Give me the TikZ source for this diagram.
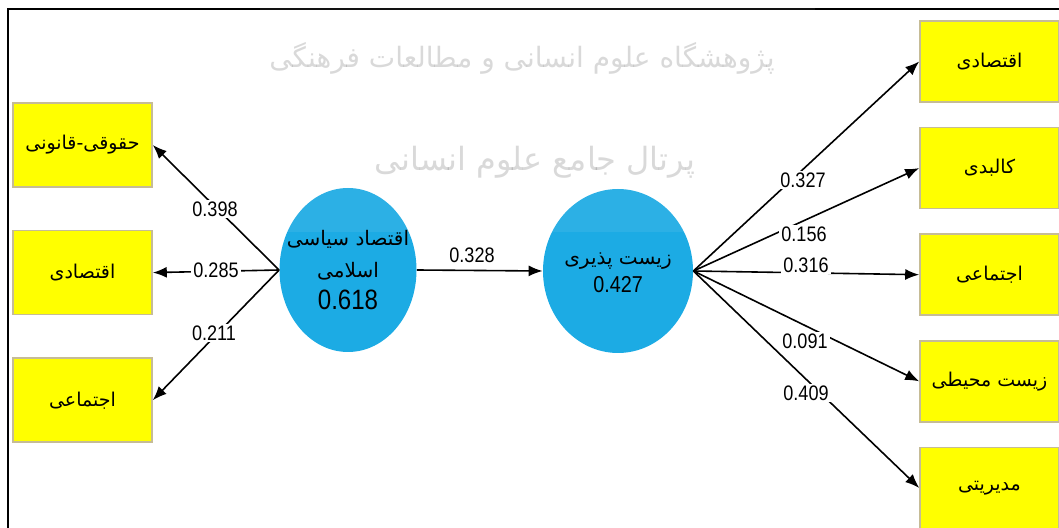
\documentclass[tikz,border=0pt]{standalone}
\usepackage{fontspec}
\setmainfont[FakeStretch=0.86]{Liberation Sans}
\newfontfamily\fa[Script=Arabic]{DejaVu Sans}
\TeXXeTstate=1
\usepackage{tikz}
\usetikzlibrary{shapes.geometric, arrows.meta}
\usetikzlibrary{positioning}

\definecolor{boxYellow}{RGB}{255,255,0}
\definecolor{boxEdge}{RGB}{198,188,150}
\definecolor{latentBlue}{RGB}{28,171,228}

\begin{document}
\begin{tikzpicture}[
  x=0.5pt, y=-0.5pt,
  node distance=21pt,
  weight/.style={fill=white, inner sep=1pt, font=\fontsize{10.5}{10.5}\selectfont},
  link/.style={-{Latex[length=7pt,width=5.5pt]}, line width=0.8pt}
]
	\tikzstyle{indicator} = [rectangle, minimum width=69.5pt, minimum height=42pt, fill=boxYellow, draw=boxEdge, line width=0.8pt, font=\fa\fontsize{9.5}{9.5}\selectfont]
	\tikzstyle{latent} = [ellipse, fill=latentBlue, inner sep=0pt]
	\tikzstyle{latentText} = [align=center, inner sep=0pt]

	\useasboundingbox (0,0) rectangle (1059,528);
	\draw[line width=1.1pt] (8,528) -- (8,9) -- (1059,9);

	% the two constructs
	\node (politicalEconomy) [latent, minimum width=68.5pt, minimum height=82pt] at (348,270) {};
	\node (viability) [latent, minimum width=75pt, minimum height=82pt] at (618,271) {};

	% left indicators
	\node (legal) [indicator] at (82.5,145) {\beginR حقوقی-قانونی\endR};
	\node (economic) [indicator, below=of legal] {\beginR اقتصادی\endR};
	\node (social) [indicator, below=of economic] {\beginR اجتماعی\endR};

	% right indicators
	\node (rEconomic) [indicator, minimum height=40.5pt] at (989.5,61.5) {\beginR اقتصادی\endR};
	\node (physical) [indicator, minimum height=40.5pt, below=12pt of rEconomic] {\beginR کالبدی\endR};
	\node (rSocial) [indicator, minimum height=40.5pt, below=12pt of physical] {\beginR اجتماعی\endR};
	\node (environmental) [indicator, minimum height=40.5pt, below=12pt of rSocial] {\beginR زیست محیطی\endR};
	\node (management) [indicator, minimum height=40.5pt, below=12pt of environmental] {\beginR مدیریتی\endR};

	% watermark
	\fill[white, fill opacity=0.07] (260,0) rectangle (815,232);
	\node (watermarkTop) [text=black, text opacity=0.15, font=\fa\fontsize{14}{14}\selectfont] at (522,58) {\beginR پژوهشگاه علوم انسانی و مطالعات فرهنگی\endR};
	\node (watermarkBottom) [text=black, text opacity=0.15, font=\fa\fontsize{16}{16}\selectfont] at (535,162) {\beginR پرتال جامع علوم انسانی\endR};

	% paths
	\draw[link] (politicalEconomy.west) -- (legal.east);
	\draw[link] (politicalEconomy.west) -- (economic.east);
	\draw[link] (politicalEconomy.west) -- (social.east);
	\draw[link] (politicalEconomy.east) -- (viability.west);
	\draw[link] (viability.east) -- (rEconomic.west);
	\draw[link] (viability.east) -- (physical.west);
	\draw[link] (viability.east) -- (rSocial.west);
	\draw[link] (viability.east) -- (environmental.west);
	\draw[link] (viability.east) -- (management.west);

	\node (w398) [weight] at (215,209) {0.398};
	\node (w285) [weight] at (216,270) {0.285};
	\node (w211) [weight] at (214,333) {0.211};
	\node (w328) [weight] at (472,255) {0.328};
	\node (w327) [weight] at (803,180) {0.327};
	\node (w156) [weight] at (804,234) {0.156};
	\node (w316) [weight] at (806,265) {0.316};
	\node (w091) [weight] at (805,341) {0.091};
	\node (w409) [weight] at (806,393) {0.409};

	\node (politicalEconomyText) [latentText, font=\fontsize{10}{16}\selectfont] at (politicalEconomy.center) {{\fa\beginR اقتصاد سیاسی\endR}\\ {\fa\beginR اسلامی\endR}\\ {\fontsize{14}{16}\selectfont 0.618}};
	\node (viabilityText) [latentText, font=\fontsize{10}{14}\selectfont] at ([yshift=-1pt]viability.center) {{\fa\beginR زیست پذیری\endR}\\ {\fontsize{11.5}{14}\selectfont 0.427}};

\end{tikzpicture}
\end{document}
